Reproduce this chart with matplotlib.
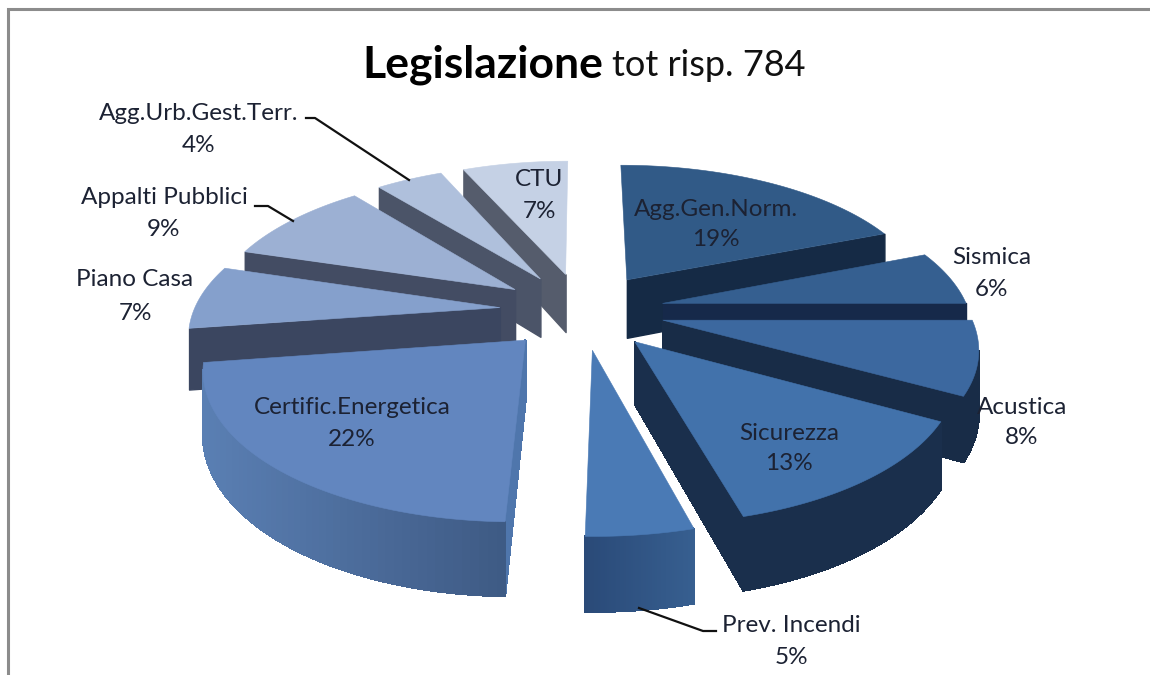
import numpy as np
import matplotlib
matplotlib.use("Agg")
import matplotlib.pyplot as plt
from matplotlib.collections import PolyCollection
from matplotlib.colors import to_rgb

labels = ["Agg.Gen.Norm.", "Sismica", "Acustica", "Sicurezza", "Prev. Incendi",
          "Certific.Energetica", "Piano Casa", "Appalti Pubblici",
          "Agg.Urb.Gest.Terr.", "CTU"]
# answers per topic, estimated from the printed percentages and slice edges (tot 784)
counts = [149, 47, 63, 100, 36, 175, 55, 74, 33, 52]

top_colors = ["#315a87", "#355f90", "#3c689f", "#4272ab", "#4a7ab5",
              "#6286bf", "#85a0cc", "#9cb0d3", "#afc0dc", "#c5d1e5"]
wall_colors = ["#152a45", "#16294a", "#182c47", "#1a2f4c", "#2d5080",
               "#4f76ac", "#3b4660", "#434c63", "#4b5468", "#555c6c"]
arc_left = ["#152a45", "#16294a", "#182c47", "#1a2f4c", "#2a4a78",
            "#5a7fb3", "#3b4660", "#434c63", "#4b5468", "#555c6c"]
arc_right = ["#152a45", "#16294a", "#182c47", "#1a2f4c", "#375f90",
             "#3e5a84", "#3b4660", "#434c63", "#4b5468", "#555c6c"]

# label text centre (x, y of name line, y of percent line), pixels
label_pos = [(716, 209, 240), (992, 258, 290), (1022, 407, 438), (789, 433, 464),
             (791, 625, 657), (352, 407, 440), (135, 280, 313), (164, 198, 230),
             (199, 113, 145), (539, 180, 212)]
leaders = [[(306, 118), (315, 118), (409, 180)],
           [(255, 206), (268, 206), (293, 221)],
           [(716, 631), (703, 631), (639, 608)]]

# projection of the tilted pie
CX, CY = 582, 310.5
RX, RY = 306, 142
PERSP = 0.16
EXPLODE = 0.27
DEPTH = 60

plt.rcParams["font.family"] = ["Lato", "DejaVu Sans"]


def project(x, z, drop=0.0):
    s = 1.0 / (1.0 + PERSP * z)
    return np.column_stack((CX + RX * x * s, CY - RY * z * s + drop * DEPTH * s))


def area(p):
    x, y = p[:, 0], p[:, 1]
    return 0.5 * np.sum(x * np.roll(y, -1) - np.roll(x, -1) * y)


def mix(a, b, t):
    a, b = np.array(to_rgb(a)), np.array(to_rgb(b))
    return tuple(a + (b - a) * t)


def draw_slice(ax, a0, a1, top, wall, c_left, c_right):
    mid = (a0 + a1) / 2
    ex, ez = EXPLODE * np.sin(mid), EXPLODE * np.cos(mid)
    th = np.linspace(a0, a1, 60)
    xs = np.concatenate(([ex], ex + np.sin(th)))
    zs = np.concatenate(([ez], ez + np.cos(th)))
    up = project(xs, zs)
    down = project(xs, zs, 1.0)

    polys, cols = [], []
    # radial walls: keep only those turned towards the viewer, edge-on ones are dropped
    for i, j in ((0, 1), (len(xs) - 1, 0)):
        q = np.array([up[i], up[j], down[j], down[i]])
        if area(q) > -400:
            continue
        polys.append(q)
        cols.append(wall)
    # outer wall
    for i in range(1, len(xs) - 1):
        q = np.array([up[i], up[i + 1], down[i + 1], down[i]])
        if area(q) > 0:
            continue
        polys.append(q)
        cols.append(None)
    # arc shades run from the left end to the right end of the visible part
    arc = [p for p, c in zip(polys, cols) if c is None]
    if arc:
        lo = min(p[:, 0].min() for p in arc)
        hi = max(p[:, 0].max() for p in arc)
        for n, c in enumerate(cols):
            if c is None:
                cols[n] = mix(c_left, c_right, (polys[n][:, 0].mean() - lo) / max(hi - lo, 1))
    if polys:
        ax.add_collection(PolyCollection(polys, facecolors=cols, edgecolors=cols,
                                         linewidths=1.0, antialiaseds=False))
    ax.fill(up[:, 0], up[:, 1], color=top, lw=0.4)


fig = plt.figure(figsize=(11.5, 6.75), dpi=100)
ax = fig.add_axes([0, 0, 1, 1])
ax.set_xlim(0, 1150)
ax.set_ylim(675, 0)
ax.axis("off")

# frame, only top and left are inside the crop
ax.plot([7.5, 7.5, 1150], [675, 8.5, 8.5], color="#8c8c8c", lw=2.2, solid_joinstyle="miter")

total = sum(counts)
edges = np.cumsum([0] + counts) / total * 2 * np.pi
mids = (edges[:-1] + edges[1:]) / 2
order = np.argsort(-np.cos(mids))
for i in order:
    draw_slice(ax, edges[i], edges[i + 1], top_colors[i], wall_colors[i], arc_left[i], arc_right[i])

for line in leaders:
    xy = np.array(line)
    ax.plot(xy[:, 0], xy[:, 1], color="#111111", lw=1.6)

for name, val, (x, y0, y1) in zip(labels, counts, label_pos):
    ax.text(x, y0, name, ha="center", va="center", fontsize=17.5, color="#1c2233")
    ax.text(x, y1, "%d%%" % round(100 * val / total), ha="center", va="center", fontsize=17.5, color="#1c2233")

ax.text(362, 65, "Legislazione", ha="left", va="center", fontsize=32, fontweight="bold", color="black")
ax.text(612, 65, "tot risp. 784", ha="left", va="center", fontsize=26, color="#111111")

fig.savefig("out.png", dpi=100)
